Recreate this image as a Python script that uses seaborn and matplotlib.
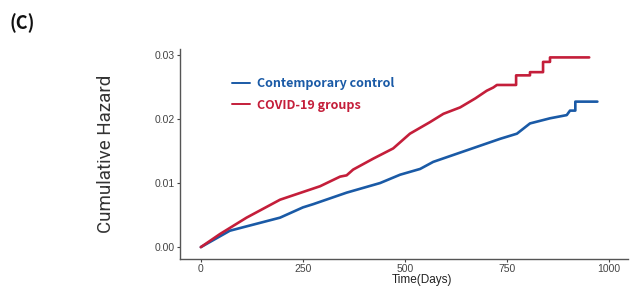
import pandas as pd
import seaborn as sns
import matplotlib.pyplot as plt

# Kurvenwerte
days_ctrl = [0, 71, 194, 250, 275, 357, 439, 488, 537, 569, 651, 733, 774, 806,
             855, 896, 904, 917, 917, 971]
hazard_ctrl = [0, 0.00256, 0.0046, 0.0062, 0.0067, 0.0085, 0.0100, 0.0113, 0.0122,
               0.0133, 0.0151, 0.0169, 0.0177, 0.0193, 0.0201, 0.0206, 0.0213,
               0.0213, 0.0227, 0.0227]

days_covid = [0, 47, 112, 194, 250, 292, 341, 357, 373, 422, 471, 512, 561, 594,
              635, 672, 700, 716, 725, 772, 772, 806, 806, 838, 838, 855, 855, 951]
hazard_covid = [0, 0.00205, 0.0046, 0.0074, 0.0086, 0.0095, 0.0110, 0.0112, 0.0121,
                0.0138, 0.0154, 0.0177, 0.0195, 0.0208, 0.0218, 0.0232, 0.0244,
                0.0249, 0.0253, 0.0253, 0.0268, 0.0268, 0.0273, 0.0273, 0.0289,
                0.0289, 0.0296, 0.0296]

group_names = ["Contemporary control", "COVID-19 groups"]
x_ticks = [0, 250, 500, 750, 1000]
y_ticks = [0.00, 0.01, 0.02, 0.03]

colors = {"Contemporary control": "#1a5aa6", "COVID-19 groups": "#c41e3a"}

df = pd.concat([
    pd.DataFrame({"days": days_ctrl, "hazard": hazard_ctrl, "group": group_names[0]}),
    pd.DataFrame({"days": days_covid, "hazard": hazard_covid, "group": group_names[1]}),
], ignore_index=True)

sns.set_style("white")
plt.rcParams["font.family"] = ["Liberation Sans", "DejaVu Sans"]

fig = plt.figure(figsize=(6.4, 2.87), dpi=100)
ax = fig.add_axes([0.28125, 0.0976, 0.70, 0.7314])

sns.lineplot(data=df, x="days", y="hazard", hue="group", palette=colors,
             estimator=None, sort=False, linewidth=1.9, ax=ax, legend=False)

ax.set_xlim(-51, 1046)
ax.set_ylim(-0.00185, 0.0309)
ax.set_xticks(x_ticks)
ax.set_xticklabels([str(t) for t in x_ticks])
ax.set_yticks(y_ticks)
ax.set_yticklabels([f"{t:.2f}" for t in y_ticks])
ax.tick_params(axis="both", labelsize=7.5, colors="#444444", length=2.5,
               width=0.8, direction="out", left=True, bottom=True, pad=1.2)

for side in ["top", "right"]:
    ax.spines[side].set_visible(False)
for side in ["left", "bottom"]:
    ax.spines[side].set_color("#555555")
    ax.spines[side].set_linewidth(1.0)

ax.set_xlabel("Time(Days)", fontsize=8.5, color="#222222")
ax.xaxis.set_label_coords(0.54, -0.128)
ax.xaxis.label.set_va("bottom")
ax.set_ylabel("Cumulative Hazard", fontsize=13.5, color="#333333",
              family=["Roboto", "DejaVu Sans"], fontweight="normal")
ax.yaxis.set_label_coords(-0.145, 0.5)

handles = [plt.Line2D([], [], color=colors[g], linewidth=1.4) for g in group_names]
leg = ax.legend(handles, group_names, loc="upper left", bbox_to_anchor=(0.09, 0.92),
                frameon=False, handlelength=1.5, handletextpad=0.5,
                labelspacing=0.7,
                prop={"family": ["Noto Sans CJK SC", "DejaVu Sans"],
                      "weight": "bold", "size": 9})
for txt, g in zip(leg.get_texts(), group_names):
    txt.set_color(colors[g])

fig.text(0.015, 0.9, "(C)", fontsize=13, fontweight="bold", color="#111111",
         family=["Noto Sans CJK SC", "DejaVu Sans"])

fig.savefig("out.png", dpi=100)
